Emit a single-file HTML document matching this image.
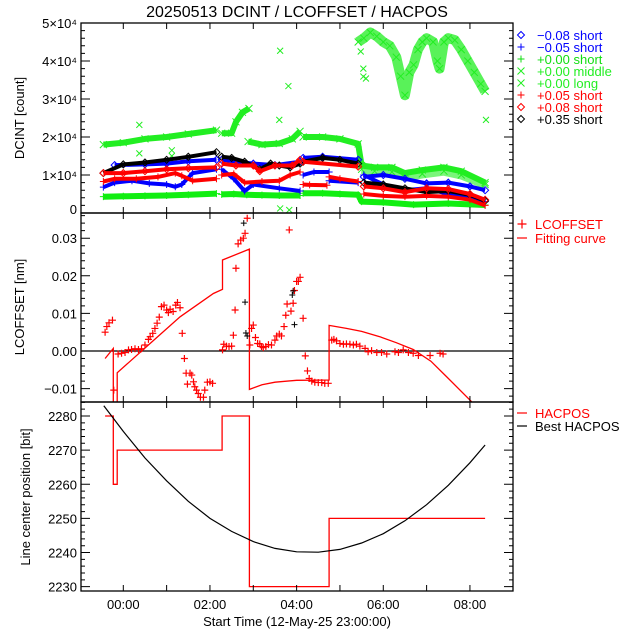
<!DOCTYPE html>
<html><head><meta charset="utf-8"><style>
html,body{margin:0;padding:0;background:#fff;}
svg{display:block;font-family:"Liberation Sans","DejaVu Sans",sans-serif;}
</style></head><body>
<svg id="chart" width="640" height="640" viewBox="0 0 640 640">
<defs>
<clipPath id="cTop"><rect x="81" y="23" width="432" height="190"/></clipPath>
<clipPath id="cMid"><rect x="81" y="213" width="432" height="189"/></clipPath>
<clipPath id="cBot"><rect x="81" y="402" width="432" height="189"/></clipPath>
</defs>
<rect width="640" height="640" fill="#fff"/>
<text x="297" y="17" font-size="16" text-anchor="middle">20250513 DCINT / LCOFFSET / HACPOS</text>
<g id="gTop" clip-path="url(#cTop)"></g>
<g id="gMid" clip-path="url(#cMid)"></g>
<g id="gBot" clip-path="url(#cBot)"></g>
<g id="gAxes"></g>
<text transform="translate(24,118) rotate(-90)" font-size="13" text-anchor="middle">DCINT [count]</text>
<text transform="translate(24,307) rotate(-90)" font-size="13" text-anchor="middle">LCOFFSET [nm]</text>
<text transform="translate(30,497) rotate(-90)" font-size="13" text-anchor="middle">Line center position [bit]</text>
<text x="297" y="626" font-size="13" text-anchor="middle">Start Time (12-May-25 23:00:00)</text>
<g id="gLegend" font-size="13"></g>
</svg>
<script>
// ---------- DATA ----------
const blueDiaT = [[-0.2,0.5,1.0,1.5,2.15],[2.27,3.0,3.5,4.08],[4.15,4.6,5.42],[5.55,6.0,6.5,7.0,7.5,8.0,8.35]];
const blueDiaV = [[12.6,12.8,13.0,13.6,14.0],[14.0,13.0,12.6,13.5],[14.5,14.8,14.0],[9.5,10.0,9.0,7.8,8.0,7.0,6.0]];
const bluePlusT = [[-0.46,-0.2,0.2,0.6,1.0,1.2,1.35,1.6,2.15],[2.27,2.55,2.8,3.0,3.6,4.08],[4.15,4.4,4.75],[4.75,5.42],[5.55,6.0,6.5,7.0,7.5,8.0,8.35]];
const bluePlusV = [[6.8,8.0,8.5,7.8,7.5,6.9,7.5,10.5,11.5],[11.5,9.0,5.8,7.5,6.5,5.8],[10.0,10.8,10.8],[8.5,8.0],[10.0,7.5,6.0,6.5,5.0,4.5,3.0]];
const greenShortT = [[-0.46,0,0.5,1.0,1.5,2.15],[2.27,2.55,2.85,3.2,3.6,4.08],[4.15,4.6,5.0,5.42,5.5,6.0,6.7,7.5,8.35]];
const greenShortV = [[4.3,4.4,4.5,4.6,4.8,5.1],[4.9,5.0,4.8,4.7,4.6,4.6],[5.2,5.2,5.0,4.8,3.0,2.8,2.2,2.5,2.1]];
const greenMidT = [[-0.46,0,0.5,1.0,1.5,2.15],[2.27,2.5,2.6,2.75,2.9],[2.88,3.2,3.6,3.9,4.08],[4.15,4.6,5.0,5.42,5.5,5.8,6.2,6.5,6.9,7.4,7.8,8.35]];
const greenMidV = [[18.0,18.5,19.5,20.0,20.8,21.8],[21.0,21.0,24.0,26.5,27.5],[18.8,18.0,18.3,19.5,21.5],[20.0,20.0,19.5,18.2,12.5,12.0,12.0,10.5,11.3,12.0,11.0,8.0]];
const greenCloudT = [[5.5,5.8,6.2,6.5,6.9,7.4,7.8,8.35]];
const greenCloudV = [[11.5,11.0,10.8,9.5,10.3,11.0,10.0,7.5]];
const greenLongT = [[5.42,5.55,5.7,5.85,6.0,6.15,6.3,6.4,6.5,6.6,6.7,6.8,6.9,7.0,7.15,7.25,7.3,7.4,7.5,7.65,7.8,7.95,8.1,8.25,8.35]];
const greenLongV = [[45,46,47.5,46.5,45,44,41,36,31,37,39,43,45,46,45,40,38,45,46,45.5,43,40,37,34,32]];
const greenOutT = [0.37,0.37,3.62,3.81,3.6,8.37,5.48,5.54,5.54,5.6,3.62,3.83,1.12,1.12];
const greenOutV = [23.2,15.7,42.7,33.4,24.5,24.5,42.5,35.9,38,35.4,1.2,0.8,16.5,15];
const redPlusT = [[-0.46,-0.2,0.3,0.8,1.2,1.35,1.6,2.15],[2.27,2.55,2.8,3.2,3.6,3.85,4.08],[4.15,4.3,4.7],[4.75,5.0,5.42],[5.55,6.0,6.5,7.0,7.5,8.0,8.35]];
const redPlusV = [[8.3,9.0,9.0,9.5,10.5,9.8,8.5,9.0],[10.0,10.3,8.0,8.3,8.5,10.0,10.8],[7.5,7.4,7.3],[9.5,9.0,8.3],[5.0,4.5,4.3,4.5,4.3,3.5,2.0]];
const redDiaT = [[-0.46,0,0.5,1.0,1.5,2.15],[2.27,2.6,3.0,3.15,3.5,3.9,4.08],[4.15,5.42],[5.55,6.0,6.5,7.0,7.5,8.0,8.35]];
const redDiaV = [[10.5,10.5,11.0,11.5,11.8,12.0],[13.0,12.5,12.5,11.0,12.5,12.5,14.0],[13.5,12.2],[7.0,6.5,5.5,6.5,6.3,5.0,3.5]];
const blackDiaT = [[-0.46,0,0.5,1.0,1.5,2.15],[2.27,2.5,2.8,3.15,3.4,3.6,3.85,4.08],[4.15,4.6,5.0,5.42],[5.55,6.0,6.5,7.0,7.5,8.0,8.35]];
const blackDiaV = [[10.5,12.8,13.3,14.0,14.8,16.0],[14.8,14.5,13.5,11.5,13.0,12.5,12.0,13.0],[13.5,14.5,14.0,13.0],[8.0,7.5,6.5,5.5,5.8,4.8,3.2]];

const lcT = [-0.42,-0.38,-0.33,-0.25,-0.22,-0.12,-0.04,0.04,0.12,0.19,0.27,0.35,0.42,0.50,0.58,0.62,0.68,0.73,0.78,0.83,0.88,0.94,1.00,1.04,1.08,1.15,1.21,1.25,1.31,1.36,1.41,1.45,1.48,1.54,1.58,1.62,1.65,1.69,1.73,1.78,1.85,1.88,1.94,2.00,2.06,2.29,2.32,2.38,2.44,2.50,2.54,2.58,2.60,2.65,2.71,2.77,2.81,2.86,2.92,2.96,3.00,3.05,3.10,3.15,3.19,3.23,3.29,3.35,3.42,3.50,3.54,3.60,3.65,3.71,3.75,3.78,3.83,3.87,3.92,3.95,4.00,4.04,4.08,4.15,4.20,4.25,4.29,4.35,4.42,4.50,4.58,4.65,4.73,4.81,4.86,4.92,5.00,5.08,5.15,5.23,5.31,5.38,5.46,5.58,5.65,5.73,5.85,5.96,6.08,6.27,6.35,6.46,6.58,6.69,6.81,7.08,7.31,7.38];
const lcV = [0.0050,0.0065,0.0075,0.0082,-0.0104,-0.0008,-0.0006,-0.0004,0.0003,0.0004,0.0006,0.0004,0.0006,0.0016,0.0031,0.0038,0.0047,0.0060,0.0074,0.0090,0.0118,0.0122,0.0109,0.0102,0.0111,0.0105,0.0122,0.0129,0.0115,0.0047,-0.0020,-0.0059,-0.0088,-0.0059,-0.0064,-0.0082,-0.0095,-0.0104,-0.0113,-0.0123,-0.0123,-0.0104,-0.0083,-0.0082,-0.0086,0.0003,0.0018,0.0013,0.0012,0.0013,0.0042,0.0109,0.0220,0.0285,0.0295,0.0300,0.0313,0.0353,0.0016,0.0060,0.0069,0.0036,0.0020,0.0019,0.0012,0.0009,0.0012,0.0017,0.0016,0.0029,0.0040,0.0045,0.0040,0.0065,0.0095,0.0125,0.0322,0.0106,0.0127,0.0161,0.0185,0.0185,0.0196,0.0087,-0.0013,-0.0053,-0.0073,-0.0080,-0.0083,-0.0084,-0.0084,-0.0086,-0.0086,0.0029,0.0031,0.0027,0.0020,0.0018,0.0019,0.0018,0.0016,0.0018,0.0013,0.0007,-0.0002,0.0001,-0.0004,-0.0004,-0.0008,-0.0002,-0.0004,0.0003,-0.0004,-0.0006,-0.0012,-0.0012,-0.0006,-0.0008];
const lcBlackT = [2.81,2.83,2.86,3.9,3.92,3.95,2.78];
const lcBlackV = [0.0130,0.0048,0.0040,0.0149,0.0160,0.0070,0.0340];
const fitT = [-0.42,-0.23,-0.23,-0.14,-0.14,0.54,1.31,2.08,2.29,2.29,2.91,2.91,3.2,3.5,4.0,4.75,4.75,5.15,5.5,5.92,6.3,6.69,7.1,7.46,8.04];
const fitV = [-0.0020,0.0007,-0.02,-0.02,-0.0058,0.0012,0.0091,0.0153,0.0164,0.0242,0.0271,-0.0102,-0.0090,-0.0083,-0.0078,-0.0077,0.0068,0.0060,0.0052,0.0038,0.0022,0.0004,-0.0027,-0.0068,-0.0135];

const hacT = [-0.42,-0.23,-0.14,2.28,2.91,4.75,8.35];
const hacV = [2280,2260,2270,2280,2230,2250];
const bestT = [-0.45,0,0.5,1,1.5,2,2.5,3,3.5,4,4.5,5,5.5,6,6.5,7,7.5,8,8.35];
const bestV = [2283,2275.5,2267.7,2261,2255,2250,2246.2,2243.2,2241.2,2240.2,2240.1,2240.9,2242.8,2245.5,2249.3,2254,2259.7,2266.3,2271.5];

// ---------- SCALES ----------
const X0=81,X1=513;
const xS = t => 123.3 + t*43.33;
const yT = v => 213 - v*3.8;
const yM = v => 351 - v*3760;
const yB = v => 416 + (2280-v)*3.413;
const NS='http://www.w3.org/2000/svg';
function mk(tag, attrs, parent){const e=document.createElementNS(NS,tag);for(const k in attrs)e.setAttribute(k,attrs[k]);parent.appendChild(e);return e;}
const gTop=document.getElementById('gTop'),gMid=document.getElementById('gMid'),gBot=document.getElementById('gBot'),gAx=document.getElementById('gAxes'),gLeg=document.getElementById('gLegend');

function markerPath(kind,x,y,s){
  if(kind==='plus') return `M${x-s},${y}H${x+s}M${x},${y-s}V${y+s}`;
  if(kind==='x') return `M${x-s},${y-s}L${x+s},${y+s}M${x-s},${y+s}L${x+s},${y-s}`;
  return `M${x},${y-s}L${x+s},${y}L${x},${y+s}L${x-s},${y}Z`;
}
function drawBand(name,Ts,Vs,color,kind,width,op){
  const g=mk('g',{},gTop);
  
  
  Ts.forEach((ts,si)=>{
    const vs=Vs[si];
    const pts=ts.map((t,i)=>xS(t).toFixed(1)+','+yT(vs[i]).toFixed(1)).join(' ');
    const pl=mk('polyline',{points:pts,fill:'none',stroke:color,'stroke-width':width,'stroke-linejoin':'round','stroke-opacity':op||1},g);
    
    
    let d='';
    ts.forEach((t,i)=>{d+=markerPath(kind,xS(t),yT(vs[i]),3.5);});
    const p=mk('path',{d:d,fill:'none',stroke:color,'stroke-width':1},g);
    
    
  });
}
drawBand('series-plus000-middle',greenMidT,greenMidV,'#22ee22','x',6);
drawBand('series-plus000-middle-cloud',greenCloudT,greenCloudV,'#22ee22','x',9,0.6);
drawBand('series-plus000-long',greenLongT,greenLongV,'#22ee22','x',10,0.75);
(function(){let d='';greenOutT.forEach((t,i)=>{d+=markerPath('x',xS(t),yT(greenOutV[i]),3);});
 const p=mk('path',{d:d,fill:'none',stroke:'#22ee22','stroke-width':1},gTop);
 
 })();
drawBand('series-plus000-short',greenShortT,greenShortV,'#11ee11','plus',6);
drawBand('series-minus008-short',blueDiaT,blueDiaV,'#0000ff','diamond',4);
drawBand('series-minus005-short',bluePlusT,bluePlusV,'#0000ff','plus',4);
drawBand('series-plus035-short',blackDiaT,blackDiaV,'#000000','diamond',4);
drawBand('series-plus008-short',redDiaT,redDiaV,'#ff0000','diamond',4);
drawBand('series-plus005-short',redPlusT,redPlusV,'#ff0000','plus',4);

(function(){
  const z=mk('line',{x1:X0,x2:X1,y1:yM(0),y2:yM(0),stroke:'#000','stroke-width':1.2},gMid);
  
  
  const fp=fitT.map((t,i)=>xS(t).toFixed(1)+','+yM(fitV[i]).toFixed(1)).join(' ');
  const f=mk('polyline',{points:fp,fill:'none',stroke:'#ff0000','stroke-width':1.3},gMid);
  
  
  let d='';lcT.forEach((t,i)=>{d+=markerPath('plus',xS(t),yM(lcV[i]),3.5);});
  const p=mk('path',{d:d,fill:'none',stroke:'#ff0000','stroke-width':1.2},gMid);
  
  
  let d2='';lcBlackT.forEach((t,i)=>{d2+=markerPath('plus',xS(t),yM(lcBlackV[i]),3);});
  const p2=mk('path',{d:d2,fill:'none',stroke:'#000','stroke-width':1},gMid);
  
  
})();

(function(){
  let pts=[];
  hacV.forEach((v,i)=>{pts.push(xS(hacT[i]).toFixed(1)+','+yB(v).toFixed(1));pts.push(xS(hacT[i+1]).toFixed(1)+','+yB(v).toFixed(1));});
  const h=mk('polyline',{points:pts.join(' '),fill:'none',stroke:'#ff0000','stroke-width':1.3},gBot);
  
  
  const bp=bestT.map((t,i)=>xS(t).toFixed(1)+','+yB(bestV[i]).toFixed(1)).join(' ');
  const b=mk('polyline',{points:bp,fill:'none',stroke:'#000','stroke-width':1.2},gBot);
  
  
})();

const xLabelHours=[0,2,4,6,8];
const xLabels=['00:00','02:00','04:00','06:00','08:00'];
const topTicks=[0,10,20,30,40,50];
const topLabels=['0','1×10⁴','2×10⁴','3×10⁴','4×10⁴','5×10⁴'];
const midTicks=[-0.01,0,0.01,0.02,0.03];
const midLabels=['−0.01','0.00','0.01','0.02','0.03'];
const botTicks=[2230,2240,2250,2260,2270,2280];
function panel(name,yTop,yBot,ticks,labels,yf,minorStep,minLo,minHi,labOff){
  const r=mk('rect',{x:X0,y:yTop,width:X1-X0,height:yBot-yTop,fill:'none',stroke:'#000','stroke-width':1.3},gAx);
  
  
  let d='';
  for(let v=minLo;v<=minHi+1e-9;v+=minorStep){const y=yf(v);if(y<yTop-0.1||y>yBot+0.1)continue;d+=`M${X0},${y}h4M${X1},${y}h-4`;}
  ticks.forEach(v=>{const y=yf(v);d+=`M${X0},${y}h9M${X1},${y}h-9`;});
  [0,1,2,3,4,5,6,7,8].forEach(h=>{const x=xS(h);d+=`M${x},${yBot}v-6M${x},${yTop}v6`;});
  const p=mk('path',{d:d,fill:'none',stroke:'#000','stroke-width':1},gAx);
  
  
  ticks.forEach((v,i)=>{let y=yf(v)+5;if(labOff&&i===0)y-=4;
    const t=mk('text',{x:77,y:y,'font-size':13,'text-anchor':'end'},gAx);t.textContent=labels[i];
    
    });
}
panel('dcint',23,213,topTicks,topLabels,yT,2,0,50,true);
panel('lcoffset',213,402,midTicks,midLabels,yM,0.002,-0.014,0.036,false);
panel('hacpos',402,591,botTicks,botTicks.map(String),yB,2,2228,2284,false);
xLabelHours.forEach((h,i)=>{const t=mk('text',{x:xS(h),y:609,'font-size':13,'text-anchor':'middle'},gAx);t.textContent=xLabels[i];
  
  });

const legTop=[['diamond','#0000ff','−0.08 short'],['plus','#0000ff','−0.05 short'],['plus','#11dd11','+0.00 short'],['x','#22ee22','+0.00 middle'],['x','#22ee22','+0.00 long'],['plus','#ff0000','+0.05 short'],['diamond','#ff0000','+0.08 short'],['diamond','#000000','+0.35 short']];
legTop.forEach((e,i)=>{const y=35+i*12;
  const p=mk('path',{d:markerPath(e[0],521,y,3.5),fill:'none',stroke:e[1],'stroke-width':1},gLeg);
  
  
  const t=mk('text',{x:537,y:y+5,fill:e[1]},gLeg);t.textContent=e[2];
  
  });
function legLine(y,kind,color,label){
  const p=mk('path',{d:kind==='plus'?markerPath('plus',522,y,4.5):`M517,${y}h10`,fill:'none',stroke:color,'stroke-width':1.2},gLeg);
  
  
  const t=mk('text',{x:535,y:y+5,fill:color},gLeg);t.textContent=label;
  
  
}
legLine(224,'plus','#ff0000','LCOFFSET');
legLine(238,'line','#ff0000','Fitting curve');
legLine(413,'line','#ff0000','HACPOS');
legLine(426,'line','#000','Best HACPOS');
</script>
</body></html>
